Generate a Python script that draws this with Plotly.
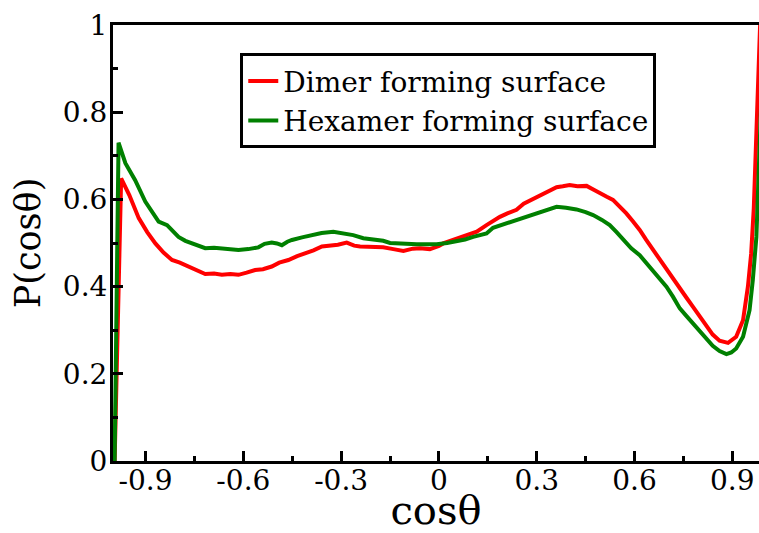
import plotly.graph_objects as go

x_dimer = [-0.995, -0.975, -0.95, -0.921, -0.895, -0.870, -0.845, -0.819, -0.795, -0.768, -0.74, -0.717,
           -0.69, -0.666, -0.64, -0.615, -0.59, -0.564, -0.54, -0.513, -0.49, -0.462, -0.435, -0.411,
           -0.385, -0.359, -0.334, -0.31, -0.283, -0.26, -0.242, -0.2, -0.171, -0.14, -0.109, -0.08,
           -0.058, -0.028, 0.0, 0.013, 0.04, 0.064, 0.09, 0.116, 0.146, 0.165, 0.187, 0.21, 0.238,
           0.26, 0.279, 0.310, 0.335, 0.361, 0.38, 0.401, 0.425, 0.453, 0.475, 0.493, 0.515, 0.534,
           0.555, 0.575, 0.595, 0.616, 0.636, 0.657, 0.678, 0.698, 0.718, 0.739, 0.759, 0.779, 0.80,
           0.820, 0.84, 0.861, 0.887, 0.912, 0.933, 0.948, 0.958, 0.966, 0.975, 0.99]
p_dimer = [0.0, 0.648, 0.61, 0.557, 0.525, 0.499, 0.478, 0.461, 0.455, 0.446, 0.436, 0.429,
           0.43, 0.427, 0.429, 0.427, 0.432, 0.438, 0.44, 0.446, 0.455, 0.461, 0.470, 0.476,
           0.483, 0.492, 0.494, 0.496, 0.501, 0.494, 0.492, 0.492, 0.490, 0.486, 0.482, 0.487,
           0.488, 0.486, 0.493, 0.499, 0.506, 0.514, 0.519, 0.526, 0.541, 0.55, 0.560, 0.568, 0.576,
           0.59, 0.597, 0.610, 0.618, 0.628, 0.630, 0.633, 0.630, 0.631, 0.622, 0.614, 0.606, 0.599,
           0.584, 0.568, 0.55, 0.530, 0.507, 0.484, 0.463, 0.442, 0.418, 0.393, 0.375, 0.354, 0.331,
           0.308, 0.29, 0.276, 0.271, 0.285, 0.323, 0.400, 0.476, 0.58, 0.83, 1.1]

x_hexamer = [-0.995, -0.983, -0.962, -0.932, -0.901, -0.88, -0.860, -0.834, -0.815, -0.799, -0.778, -0.758,
             -0.737, -0.717, -0.69, -0.666, -0.64, -0.615, -0.585, -0.554, -0.535, -0.513, -0.497, -0.482,
             -0.465, -0.451, -0.42, -0.390, -0.36, -0.324, -0.295, -0.263, -0.232, -0.2, -0.171, -0.150,
             -0.130, -0.1, -0.068, -0.04, -0.007, 0.025, 0.054, 0.08, 0.105, 0.126, 0.146, 0.166, 0.187,
             0.21, 0.238, 0.26, 0.289, 0.31, 0.335, 0.361, 0.39, 0.422, 0.45, 0.473, 0.50, 0.524, 0.545,
             0.565, 0.59, 0.616, 0.636, 0.657, 0.678, 0.698, 0.718, 0.739, 0.759, 0.779, 0.80, 0.820,
             0.84, 0.861, 0.882, 0.897, 0.912, 0.933, 0.953, 0.963, 0.974, 0.99]
p_hexamer = [0.0, 0.730, 0.683, 0.644, 0.595, 0.57, 0.549, 0.541, 0.527, 0.514, 0.505, 0.499,
             0.492, 0.488, 0.489, 0.488, 0.485, 0.484, 0.486, 0.490, 0.498, 0.501, 0.499, 0.495,
             0.503, 0.507, 0.513, 0.518, 0.523, 0.526, 0.522, 0.518, 0.511, 0.509, 0.505, 0.500,
             0.499, 0.498, 0.497, 0.497, 0.497, 0.500, 0.503, 0.508, 0.514, 0.518, 0.522, 0.535, 0.540,
             0.547, 0.553, 0.558, 0.564, 0.570, 0.576, 0.583, 0.581, 0.577, 0.571, 0.564, 0.553, 0.541, 0.525,
             0.507, 0.488, 0.472, 0.455, 0.436, 0.418, 0.400, 0.377, 0.350, 0.333, 0.316, 0.297, 0.278,
             0.264, 0.252, 0.245, 0.249, 0.258, 0.285, 0.346, 0.415, 0.514, 0.85]

x_ticks = [-0.9, -0.6, -0.3, 0, 0.3, 0.6, 0.9]
x_ticklabels = ["-0.9", "-0.6", "-0.3", "0", "0.3", "0.6", "0.9"]
x_minor = [-0.75, -0.45, -0.15, 0.15, 0.45, 0.75]
y_ticks = [0, 0.2, 0.4, 0.6, 0.8, 1]
y_ticklabels = ["0", "0.2", "0.4", "0.6", "0.8", "1"]
y_minor = [0.1, 0.3, 0.5, 0.7, 0.9]

FONT = "DejaVu Serif"

fig = go.Figure()
fig.add_trace(go.Scatter(x=x_dimer, y=p_dimer, mode="lines", name="Dimer forming surface",
                         line=dict(color="#ff0000", width=4)))
fig.add_trace(go.Scatter(x=x_hexamer, y=p_hexamer, mode="lines", name="Hexamer forming surface",
                         line=dict(color="#008000", width=4)))

fig.update_layout(
    template="none",
    width=759, height=533,
    margin=dict(l=113, r=0, t=25, b=72),
    plot_bgcolor="white", paper_bgcolor="white",
    font=dict(family=FONT, color="black", size=28),
    showlegend=True,
    legend=dict(x=0.197, y=0.935, xanchor="left", yanchor="top",
                bordercolor="black", borderwidth=3, bgcolor="white",
                font=dict(family=FONT, size=28, color="black"),
                itemwidth=30, tracegroupgap=0),
    xaxis=dict(range=[-1, 0.982], showgrid=False, zeroline=False,
               showline=True, linecolor="black", linewidth=3, mirror=True,
               ticks="inside", ticklen=10, tickwidth=3, tickcolor="black",
               tickmode="array", tickvals=x_ticks, ticktext=x_ticklabels,
               tickfont=dict(family=FONT, size=28, color="black"),
               ticklabelstandoff=-8,
               minor=dict(tickmode="array", tickvals=x_minor, ticks="inside",
                          ticklen=5, tickwidth=3, tickcolor="black", showgrid=False),
               title=dict(text="cosθ", font=dict(family=FONT, size=40, color="black"), standoff=3)),
    yaxis=dict(range=[0, 1], showgrid=False, zeroline=False,
               showline=True, linecolor="black", linewidth=3,
               ticks="inside", ticklen=10, tickwidth=3, tickcolor="black",
               tickmode="array", tickvals=y_ticks, ticktext=y_ticklabels,
               tickfont=dict(family=FONT, size=28, color="black"),
               ticklabelstandoff=-3,
               minor=dict(tickmode="array", tickvals=y_minor, ticks="inside",
                          ticklen=5, tickwidth=3, tickcolor="black", showgrid=False),
               title=dict(text="P(cosθ)", font=dict(family=FONT, size=35, color="black"), standoff=12)),
)

fig.write_html("out.html", config={"displayModeBar": False},
               post_script="document.body.style.margin='0';document.body.style.overflow='hidden';")
